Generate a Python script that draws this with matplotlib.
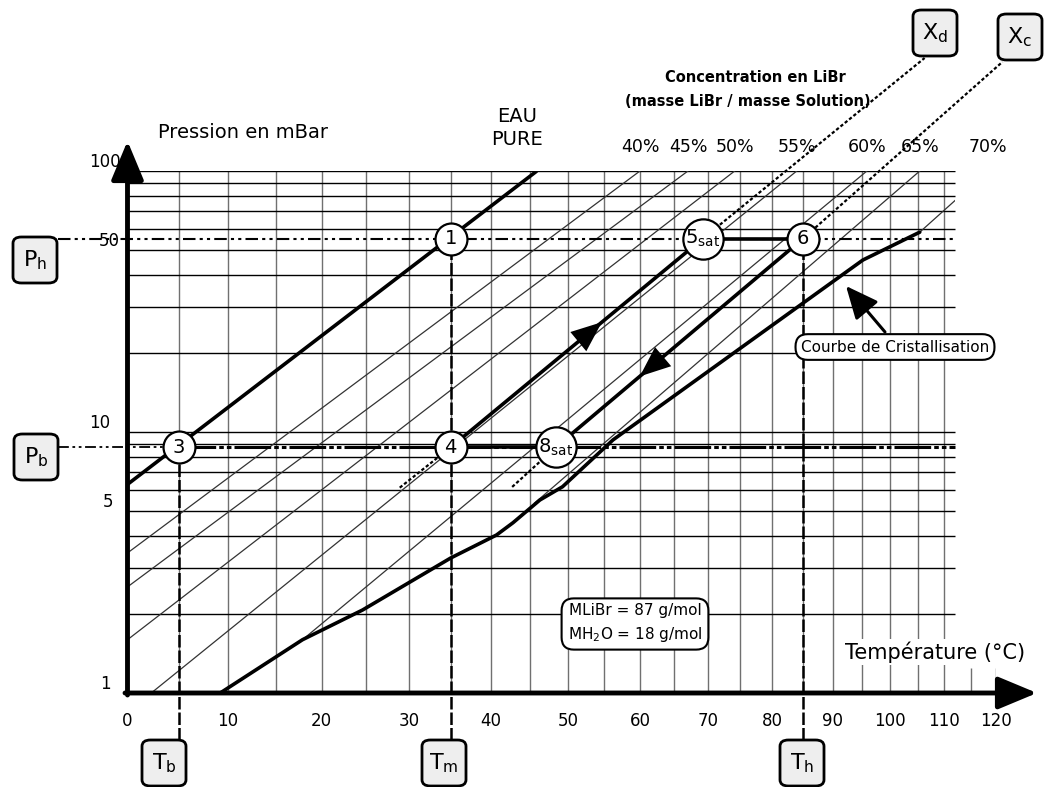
import numpy as np
import matplotlib.pyplot as plt
from matplotlib.patches import FancyBboxPatch, Rectangle

plt.rcParams['font.family'] = ['DejaVu Sans']

W, H = 1055, 787


def fx(px):
    return px / W


def fy(py):
    return 1 - py / H


# Duhring chart : log(p) against -1/T
def fwd(t):
    with np.errstate(divide='ignore', invalid='ignore'):
        return -1.0 / (np.asarray(t, dtype=float) + 273.15)


def inv(u):
    with np.errstate(divide='ignore', invalid='ignore'):
        return -1.0 / np.asarray(u, dtype=float) - 273.15


# axes / grid (degC, mbar)
t_ticks = list(range(0, 121, 10))
t_grid = list(range(5, 111, 5))
t_grid_short = [115, 120]
p_grid = [2, 3, 4, 5, 6, 7, 8, 9, 10, 20, 30, 40, 50, 60, 70, 80, 90, 100]
p_labels = [1, 5, 10, 50, 100]
p_label_dx = [-17, -14, -17, -8, -7]
t_grid_end = 112

# pure water
eau_t = [0.0, 45.9]
eau_p = [6.3, 100.0]

# iso-concentration lines LiBr
conc_names = ['40%', '45%', '50%', '55%', '60%', '65%', '70%']
conc_t0 = [0.0, 0.0, 0.0, 2.3, 17.9, 45.6, 105.4]
conc_p0 = [3.44, 2.55, 1.60, 1.0, 1.60, 5.34, 58.3]
conc_t1 = [60.0, 67.0, 74.1, 84.0, 95.9, 105.4, 118.4]
conc_p1 = [100, 100, 100, 100, 100, 100, 100]

# crystallisation curve
cris_t = [9.2, 17.9, 24.6, 35.0, 40.7, 42.8, 46.3, 49.3, 56.2, 95.2, 105.4]
cris_p = [1.0, 1.60, 2.08, 3.29, 4.03, 4.49, 5.49, 6.17, 9.33, 45.6, 58.3]

# cycle
Tb, Tm, Th = 5.0, 35.0, 85.0
Pb, Ph = 8.74, 55.0
T5, T8 = 69.2, 48.4
# dotted extensions of the two solution lines (dilute Xd, concentrated Xc)
xd_low = (28.9, 6.12)
xd_high = (106.3, 271.0)
xc_low = (42.7, 6.16)
xc_high = (121.3, 262.0)

fig = plt.figure(figsize=(W / 100, H / 100), dpi=100)
ax = fig.add_axes([fx(127.5), fy(693), fx(996) - fx(127.5), fy(171) - fy(693)])
ax.set_xscale('function', functions=(fwd, inv))
ax.set_yscale('log')
ax.set_xlim(0, 120)
ax.set_ylim(1, 100)
for s in ax.spines.values():
    s.set_visible(False)
ax.yaxis.set_major_locator(plt.NullLocator())
ax.yaxis.set_minor_locator(plt.NullLocator())
ax.set_xticks(t_ticks)
ax.set_xticklabels([str(t) for t in t_ticks], fontsize=12)
ax.xaxis.set_minor_locator(plt.NullLocator())
ax.tick_params(axis='x', length=0, pad=14)

# grid
ax.vlines(t_grid, 1, 100, colors='#707070', lw=1.0, zorder=1)
ax.vlines(t_grid_short, 1, 1.25, colors='#707070', lw=1.0, zorder=1)
ax.hlines(p_grid, 0, t_grid_end, colors='black', lw=1.0, zorder=1)

clip = Rectangle((0, 1), t_grid_end, 99, transform=ax.transData, fill=False, lw=0)
ax.add_patch(clip)
for i in range(len(conc_names)):
    ln, = ax.plot([conc_t0[i], conc_t1[i]], [conc_p0[i], conc_p1[i]], color='#333333', lw=0.9, zorder=2)
    ln.set_clip_path(clip)
    ax.annotate(conc_names[i], xy=(conc_t1[i], 100), xytext=(0, 24), textcoords='offset pixels',
                fontsize=12.5, ha='center', va='center')

# pure water and crystallisation
lw_thick = 2.6
ax.plot(eau_t, eau_p, color='black', lw=lw_thick, zorder=3, solid_capstyle='butt')
ax.plot(cris_t, cris_p, color='black', lw=lw_thick, zorder=3, solid_capstyle='round')

# solution lines
ax.plot([Tm, T5], [Pb, Ph], color='black', lw=lw_thick, zorder=3)
ax.plot([T8, Th], [Pb, Ph], color='black', lw=lw_thick, zorder=3)
dots = (0, (1.5, 1))
ax.plot([xd_low[0], Tm], [xd_low[1], Pb], color='black', lw=1.6, ls=dots, zorder=3)
ax.plot([T5, xd_high[0]], [Ph, xd_high[1]], color='black', lw=1.6, ls=dots, zorder=3, clip_on=False)
ax.plot([xc_low[0], T8], [xc_low[1], Pb], color='black', lw=1.6, ls=dots, zorder=3)
ax.plot([Th, xc_high[0]], [Ph, xc_high[1]], color='black', lw=1.6, ls=dots, zorder=3, clip_on=False)

# isobars Ph / Pb and isotherms Tb / Tm / Th
t_left = -6.5
dash_dot = (0, (6, 2, 1.5, 2, 1.5, 2))
ax.plot([t_left, t_grid_end], [Ph, Ph], color='black', lw=1.5, ls=dash_dot, zorder=2, clip_on=False)
ax.plot([t_left, Tb], [Pb, Pb], color='black', lw=1.3, ls=dash_dot, zorder=2, clip_on=False)
ax.plot([Tb, t_grid_end], [Pb, Pb], color='black', lw=2.2, ls=(0, (12, 1, 1.5, 1, 1.5, 1)), zorder=2)
ax.plot([Tm, T8], [Pb, Pb], color='black', lw=lw_thick, zorder=3)
ax.plot([T5, Th], [Ph, Ph], color='black', lw=lw_thick, zorder=3)
p_box = 0.66
for t, p in [(Tb, Pb), (Tm, Ph), (Th, Ph)]:
    ax.plot([t, t], [p_box, p], color='black', lw=1.8, ls=(0, (5, 1.2)), zorder=2, clip_on=False)


# arrow heads on the solution lines
def head(t0, p0, t1, p1, frac):
    a = ax.transData.transform((t0, p0))
    b = ax.transData.transform((t1, p1))
    tip = a + frac * (b - a)
    tail = tip - 0.05 * (b - a)
    inv_t = ax.transData.inverted()
    ax.annotate('', xy=inv_t.transform(tip), xytext=inv_t.transform(tail),
                arrowprops=dict(arrowstyle='-|>,head_length=1.1,head_width=0.45',
                                mutation_scale=20, color='black', lw=0,
                                shrinkA=0, shrinkB=0), zorder=5)


head(Tm, Pb, T5, Ph, 0.60)
head(Th, Ph, T8, Pb, 0.66)

# cycle points
pts = [(Tm, Ph, '1', 23), (Tb, Pb, '3', 23), (Tm, Pb, '4', 23), (Th, Ph, '6', 23),
       (T5, Ph, r'5$_{\rm sat}$', 29), (T8, Pb, r'8$_{\rm sat}$', 29)]
for t, p, lab, ms in pts:
    ax.plot([t], [p], 'o', ms=ms, mfc='white', mec='black', mew=1.6, zorder=6)
    ax.text(t, p, lab, ha='center', va='center', fontsize=14, zorder=7)

# y labels
for v, dx in zip(p_labels, p_label_dx):
    ax.annotate(str(v), xy=(0, v), xycoords=('axes fraction', 'data'), xytext=(dx, 9),
                textcoords='offset pixels', ha='right', va='center', fontsize=12)

# axes with arrows
ax.annotate('', xy=(fx(1037), fy(693)), xycoords='figure fraction', xytext=(fx(125), fy(693)),
            arrowprops=dict(arrowstyle='-|>,head_length=1.2,head_width=0.5', mutation_scale=20,
                            lw=3.5, color='black', shrinkA=0, shrinkB=0))
ax.annotate('', xy=(fx(127.5), fy(141)), xycoords='figure fraction', xytext=(fx(127.5), fy(695)),
            arrowprops=dict(arrowstyle='-|>,head_length=1.2,head_width=0.5', mutation_scale=20,
                            lw=3.5, color='black', shrinkA=0, shrinkB=0))

# texts
fig.text(fx(158), fy(133), 'Pression en mBar', fontsize=14, ha='left', va='center')
fig.text(fx(517), fy(128), 'EAU\nPURE', fontsize=14, ha='center', va='center', linespacing=1.25)
fig.text(fx(755), fy(78), 'Concentration en LiBr', fontsize=10.5, fontweight='bold', ha='center', va='center')
fig.text(fx(748), fy(101), '(masse LiBr / masse Solution)', fontsize=10.5, fontweight='bold',
         ha='center', va='center')
fig.text(fx(935), fy(652), 'Température (°C)', fontsize=15, ha='center', va='center',
         bbox=dict(fc='white', ec='none', pad=2))
fig.text(fx(895), fy(347), 'Courbe de Cristallisation', fontsize=11, ha='center', va='center',
         bbox=dict(boxstyle='round,pad=0.35,rounding_size=0.8', fc='white', ec='black', lw=1.5))
fig.text(fx(635), fy(623), 'MLiBr = 87 g/mol\nMH$_2$O = 18 g/mol', fontsize=11, ha='center',
         va='center', linespacing=1.5,
         bbox=dict(boxstyle='round,pad=0.4,rounding_size=0.8', fc='white', ec='black', lw=1.5))
ax.annotate('', xy=(fx(846), fy(286)), xycoords='figure fraction', xytext=(fx(885), fy(332)),
            arrowprops=dict(arrowstyle='-|>,head_length=1.0,head_width=0.45', mutation_scale=20,
                            lw=2.2, color='black', shrinkA=0, shrinkB=0))

# labelled boxes
boxes = [(35, 260, r'P$_{\rm h}$'), (36, 457, r'P$_{\rm b}$'), (164, 763, r'T$_{\rm b}$'),
         (444, 763, r'T$_{\rm m}$'), (802, 763, r'T$_{\rm h}$'), (935, 33, r'X$_{\rm d}$'),
         (1020, 37, r'X$_{\rm c}$')]
for cx, cy, lab in boxes:
    w, h = 44, 46
    fig.patches.append(FancyBboxPatch((fx(cx - w / 2), fy(cy + h / 2)), fx(w), h / H,
                                      boxstyle='round,pad=0,rounding_size=0.008',
                                      transform=fig.transFigure, fc='#eeeeee', ec='black', lw=2))
    fig.text(fx(cx), fy(cy), lab, fontsize=16, ha='center', va='center')

fig.savefig('out.png', dpi=100)
